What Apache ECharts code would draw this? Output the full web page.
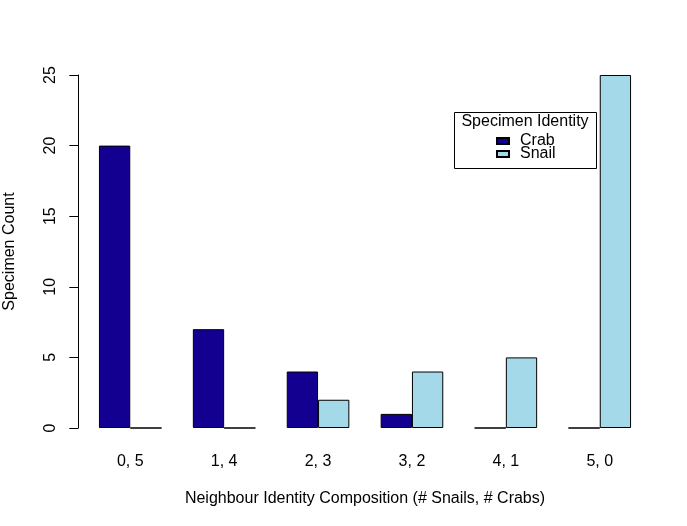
<!DOCTYPE html>
<html>
<head>
<meta charset="utf-8">
<script src="https://cdn.jsdelivr.net/npm/echarts@6/dist/echarts.min.js"></script>
<style>html,body{margin:0;padding:0;background:#fff;}#c{width:687px;height:526px;}</style>
</head>
<body>
<div id="c"></div>
<script>
const categories = ['0, 5', '1, 4', '2, 3', '3, 2', '4, 1', '5, 0'];
const crabCounts = [20, 7, 4, 1, 0, 0];
const snailCounts = [0, 0, 2, 4, 5, 25];
const yTicks = [0, 5, 10, 15, 20, 25];

const FONT = '"Liberation Sans", Arial, Helvetica, sans-serif';
const chart = echarts.init(document.getElementById('c'));
chart.setOption({
  animation: false,
  backgroundColor: '#ffffff',
  grid: { left: 83.3, right: 40.3, top: 75, bottom: 98, containLabel: false, outerBoundsMode: 'none' },
  xAxis: {
    type: 'category',
    data: categories,
    axisLine: { show: false },
    axisTick: { show: false },
    axisLabel: { color: '#000', fontSize: 16, fontFamily: FONT, margin: 26 },
    name: 'Neighbour Identity Composition (# Snails, # Crabs)',
    nameLocation: 'middle',
    nameGap: 63,
    nameTextStyle: { color: '#000', fontSize: 16, fontFamily: FONT }
  },
  yAxis: {
    type: 'value',
    min: yTicks[0],
    max: yTicks[yTicks.length - 1],
    interval: 5,
    offset: 5,
    splitLine: { show: false },
    axisLine: { show: true, lineStyle: { color: '#000', width: 1 } },
    axisTick: { show: true, length: 9, lineStyle: { color: '#000' } },
    axisLabel: { color: '#000', fontSize: 16, fontFamily: FONT, rotate: 90, margin: 20 },
    name: 'Specimen Count',
    nameLocation: 'middle',
    nameGap: 61,
    nameTextStyle: { color: '#000', fontSize: 16, fontFamily: FONT }
  },
  legend: {
    orient: 'vertical',
    left: 496,
    top: 133,
    padding: 0,
    itemGap: -3,
    itemWidth: 12,
    itemHeight: 6,
    icon: 'rect',
    textStyle: { color: '#000', fontSize: 16, fontFamily: FONT, lineHeight: 13, padding: [0, 0, 0, 6] },
    data: ['Crab', 'Snail']
  },
  graphic: [
    { type: 'rect', shape: { x: 454.5, y: 112.5, width: 142, height: 56 }, style: { fill: 'none', stroke: '#000', lineWidth: 1 }, z: 10 },
    { type: 'text', x: 525, y: 121.5, style: { text: 'Specimen Identity', fill: '#000', font: '16px ' + FONT, textAlign: 'center', textVerticalAlign: 'middle' }, z: 10 }
  ],
  series: [
    {
      name: 'Crab', type: 'bar', data: crabCounts,
      barGap: '0%', barCategoryGap: '33.333%',
      itemStyle: { color: '#140090', borderColor: '#000', borderWidth: 1 }
    },
    {
      name: 'Snail', type: 'bar', data: snailCounts,
      barGap: '0%', barCategoryGap: '33.333%',
      itemStyle: { color: '#a3d9e8', borderColor: '#000', borderWidth: 1 }
    }
  ]
});
</script>
</body>
</html>
